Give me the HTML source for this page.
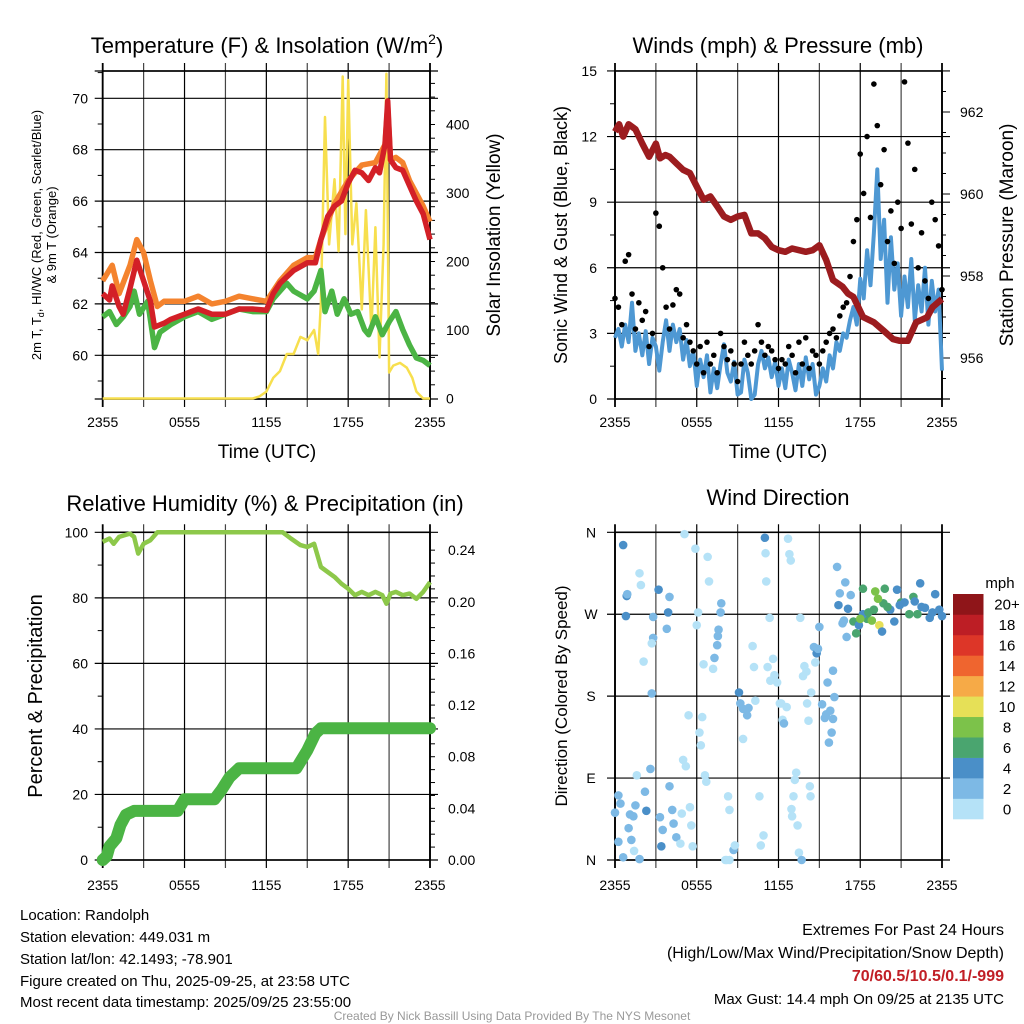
<!DOCTYPE html>
<html><head><meta charset="utf-8"><style>
html,body{margin:0;padding:0;background:#fff}
svg{display:block;font-family:"Liberation Sans",sans-serif}
</style></head><body>
<svg id="s" width="1024" height="1024" viewBox="0 0 1024 1024">
<g id="txt">
<text x="267" y="53" font-size="22" text-anchor="middle">Temperature (F) &amp; Insolation (W/m<tspan dy="-9" font-size="14">2</tspan><tspan dy="9">)</tspan></text>
<text x="778" y="53" font-size="22" text-anchor="middle">Winds (mph) &amp; Pressure (mb)</text>
<text x="265" y="511" font-size="22" text-anchor="middle">Relative Humidity (%) &amp; Precipitation (in)</text>
<text x="778" y="505" font-size="22" text-anchor="middle">Wind Direction</text>
<text x="267" y="458" font-size="19" text-anchor="middle">Time (UTC)</text>
<text x="778" y="458" font-size="19" text-anchor="middle">Time (UTC)</text>
<text transform="translate(41,235) rotate(-90)" font-size="13" text-anchor="middle">2m T, T<tspan dy="3" font-size="9">d</tspan><tspan dy="-3">, HI/WC (Red, Green, Scarlet/Blue)</tspan></text>
<text transform="translate(56,235) rotate(-90)" font-size="13" text-anchor="middle">&amp; 9m T (Orange)</text>
<text transform="translate(500,235) rotate(-90)" font-size="19" text-anchor="middle">Solar Insolation (Yellow)</text>
<text transform="translate(567,235) rotate(-90)" font-size="18" text-anchor="middle">Sonic Wind &amp; Gust (Blue, Black)</text>
<text transform="translate(1013,235) rotate(-90)" font-size="19" text-anchor="middle">Station Pressure (Maroon)</text>
<text transform="translate(42,696) rotate(-90)" font-size="20" text-anchor="middle">Percent &amp; Precipitation</text>
<text transform="translate(567,696) rotate(-90)" font-size="17" text-anchor="middle">Direction (Colored By Speed)</text>
<text x="1000" y="588" font-size="15" text-anchor="middle">mph</text>
<g font-size="15">
<text x="20" y="920">Location: Randolph</text>
<text x="20" y="942">Station elevation: 449.031 m</text>
<text x="20" y="964">Station lat/lon: 42.1493; -78.901</text>
<text x="20" y="986">Figure created on Thu, 2025-09-25, at 23:58 UTC</text>
<text x="20" y="1007">Most recent data timestamp: 2025/09/25 23:55:00</text>
</g>
<g font-size="16" text-anchor="end">
<text x="1004" y="935">Extremes For Past 24 Hours</text>
<text x="1004" y="958">(High/Low/Max Wind/Precipitation/Snow Depth)</text>
<text x="1004" y="981" fill="#c11f26" font-weight="bold">70/60.5/10.5/0.1/-999</text>
<text x="1004" y="1004" font-size="15">Max Gust: 14.4 mph On 09/25 at 2135 UTC</text>
</g>
<text x="512" y="1020" font-size="12" fill="#999" text-anchor="middle">Created By Nick Bassill Using Data Provided By The NYS Mesonet</text>
</g>
</svg>
<script>
// ---- Temperature panel data ----
const redHours=[0,0.5,0.7,1.2,1.5,2,2.5,3,3.5,3.8,4.5,5,6,7,8,9,10,11,12,12.5,13,14,15,15.6,16,16.5,17,17.5,18,18.5,19,19.5,20,20.3,20.7,20.9,21.1,21.5,22,22.5,23,23.5,24];
const redTemp=[62.4,62.15,62.7,61.9,61.6,62.6,63.7,62.9,62.1,61.1,61.25,61.4,61.6,61.8,61.6,61.6,61.8,61.8,61.75,62.4,62.8,63.3,63.6,63.6,64.5,65.4,65.8,66.0,66.7,67.2,67.1,66.8,67.3,67.1,68.2,69.9,67.6,67.3,67.2,66.6,66.0,65.5,64.5];
const orangeHours=[0,0.7,1.2,2,2.5,3,3.5,4,4.5,6,7,8,9,10,11,12,13,14,15,15.6,16,17,18,19,20,20.7,20.9,21.1,21.5,22,22.5,23,23.5,24];
const orangeTemp=[62.9,63.5,62.4,63.5,64.5,64.0,62.9,61.9,62.1,62.1,62.3,62.0,62.1,62.3,62.2,62.1,62.9,63.5,63.8,63.8,64.5,65.9,66.8,67.4,67.5,68.2,69.7,67.6,67.7,67.5,66.8,66.3,65.8,65.2];
const greenHours=[0,0.5,1,1.5,2,2.3,2.7,3.3,3.8,4.2,5,6,7,8,9,10,11,12,12.5,13,13.5,14,15,15.5,16,16.3,16.8,17.2,17.7,18.2,18.7,19.2,19.5,20,20.5,21,21.5,22,22.5,23,23.5,24];
const greenTemp=[61.5,61.7,61.2,61.5,61.9,62.5,61.6,62.1,60.3,60.9,61.2,61.5,61.7,61.4,61.6,61.8,61.7,61.7,62.2,62.5,62.8,62.5,62.2,62.5,63.3,61.7,62.5,61.6,62.2,61.6,61.7,61.0,60.8,61.5,60.8,61.3,61.7,61.0,60.4,59.9,59.8,59.6];
const solarHours=[0,11,11.5,12,12.5,13,13.5,14,14.5,15,15.5,15.8,16,16.3,16.6,17,17.3,17.6,17.8,18,18.3,18.6,19,19.3,19.7,20,20.3,20.6,20.8,21,21.3,21.8,22.3,22.7,23,23.5,24];
const solarW=[0,0,3,10,30,40,65,65,90,85,100,65,140,411,225,320,215,470,240,465,225,285,130,275,100,250,60,225,474,38,48,52,45,30,10,0,0];
const tempTicks=[60,62,64,66,68,70];
const solarTicks=[0,100,200,300,400];
const timeLabels=["2355","0555","1155","1755","2355"];
// ---- Winds panel data (15-min) ----
const windSpd=[2.8,3.2,2.4,3.4,2.6,4.4,2.2,3.0,2.0,3.1,1.6,2.8,2.4,1.3,2.6,3.6,2.2,3.4,2.6,3.2,1.8,2.7,1.5,2.2,
0.6,1.8,1.0,2.0,0.3,1.4,0.5,1.6,2.5,1.2,0.8,1.7,
0.2,0.3,1.8,1.2,0,0.2,1.6,2.2,1.4,1.9,1.0,1.7,
0.6,1.4,0.5,1.8,1.2,0.4,1.6,0.6,1.9,0.9,1.6,0.2,
0.6,1.4,0.8,2.0,1.4,2.6,2.2,3.0,2.8,3.6,4.2,3.4,
5.5,4.6,6.8,5.2,7.6,10.5,6.4,8.2,4.4,7.4,5.0,6.2,
3.8,5.6,4.2,6.4,3.6,5.2,4.0,6.0,3.4,5.4,4.0,5.0,1.3];
const gustSpd=[4.6,4.2,3.4,6.3,6.6,4.8,3.2,4.4,3.6,4.0,2.4,3.0,8.5,7.9,6.0,4.2,3.2,4.3,5.0,4.8,2.8,3.4,2.6,2.2,
1.6,2.4,1.2,2.6,1.6,2.0,1.2,3.0,2.4,1.8,2.2,1.6,
0.8,1.6,2.6,2.0,1.6,2.2,3.4,2.6,2.0,2.4,2.2,1.8,
1.4,1.8,1.6,2.4,2.0,1.2,2.6,1.6,2.8,1.4,2.2,2.0,
1.6,2.2,2.6,3.0,3.2,2.8,3.8,4.2,4.4,5.6,7.2,8.2,
11.2,9.4,12.0,8.3,14.4,12.5,9.8,11.4,7.2,8.6,6.2,9.0,
7.8,14.5,11.7,8.0,10.5,6.0,7.6,5.4,4.6,9.0,8.2,7.0,5.0];
const presHours=[0,0.3,0.6,1,1.5,2,2.5,3,3.3,3.7,4,4.5,5,5.5,6,6.5,7,7.5,8,8.5,9,9.5,10,10.5,11,11.5,12,12.5,13,14,14.5,15,15.5,16,16.7,17.1,17.5,18.2,19,19.7,20.4,20.9,21.5,22.1,22.9,23.3,24];
const presMb=[961.52,961.70,961.40,961.70,961.58,961.23,960.91,961.23,960.87,960.95,960.91,960.75,960.59,960.51,960.18,959.86,959.94,959.70,959.45,959.37,959.45,959.49,959.04,959.04,958.92,958.71,958.63,958.59,958.67,958.59,958.63,958.75,958.39,957.90,957.74,957.57,957.49,957.00,956.87,956.67,956.46,956.42,956.42,956.87,956.99,957.24,957.44];
const windTicks=[0,3,6,9,12,15];
const presTicks=[956,958,960,962];
// ---- Humidity panel data ----
const rhHours=[0,0.5,0.8,1.2,2,2.3,2.6,3,3.5,4,13.2,13.8,14.5,15,15.5,16,16.5,17,17.5,18,18.5,19,19.5,20,20.5,20.8,21.1,21.5,22,22.5,23,23.5,24];
const rhPct=[97.1,98.1,96.5,98.6,99.6,98.6,93.5,96.5,97.6,100,100,98.1,96.1,95.5,96.5,89.4,87.9,86.4,84.3,82.8,80.8,81.8,80.8,81.8,80.8,78.2,81.3,81.8,80.8,81.3,79.7,81.8,84.8];
const prHours=[0,0.3,0.5,1,1.3,1.7,2.3,5.5,6,8.2,8.7,9.3,10,14.2,15,15.6,16,24];
const prIn=[0,0.003,0.0105,0.0168,0.027,0.035,0.038,0.038,0.047,0.047,0.054,0.064,0.071,0.071,0.085,0.098,0.102,0.102];
const rhTicks=[0,20,40,60,80,100];
const prTicks=["0.00","0.04","0.08","0.12","0.16","0.20","0.24"];
// ---- Wind direction data ----
const dirHour=[0.6,0.86,0.9,0.8,0.25,0,0.4,1.1,1.35,2.3,1.5,2.2,2.6,1.6,1,1.2,0.25,0.6,1.8,1.4,1.8,1.9,2.1,2.7,2.8,2.8,3.2,3.8,3.9,4.0,2.7,3.3,3.4,3.5,4.2,4.0,4.3,4.5,4.8,4.9,5.5,5.6,5.7,5.0,5.2,5.4,5.1,5.9,6.1,6.0,6.5,6.8,6.9,6.2,6.3,6.4,6.6,6.7,7.5,7.6,7.55,7.3,7.2,7.8,7.75,8.1,8.4,8.3,8.2,8.4,8.7,8.8,9.1,9.2,9.4,9.8,9.7,10.2,10.1,10.3,9.4,10.6,10.9,10.7,11,11.05,11.1,11.2,11.4,11.6,11.35,11.7,11.9,12.1,12.3,12.4,12.2,12.6,12.7,12.8,12.9,13.3,13.2,13.1,12.95,13.0,13.4,13.5,13.7,13.6,13.9,13.8,14.05,14.1,14.2,14.3,14.35,14.4,14.7,14.6,14.8,14.9,15.0,15.2,15.4,15.5,15.8,16.0,16.1,15.9,15.7,15.6,16.0,16.3,16.5,16.4,16.9,17.1,16.8,16.7,17.0,17.3,17.7,18.2,18.5,18.2,18.6,18.85,19.1,19.4,19.7,19.8,19.3,19.6,20.2,20.5,20.7,21.0,21.25,21.6,21.9,22.4,22.5,22.75,23.1,23.3,23.5,23.8,24,17.5,17.9,18.0,19.0,20.0,20.9,22.0,22.2,23.6];
const dirDeg=[346,290,292,268,71,52,62,50,48,54,60,75,100,93,35,22,20,3,1,10,315,302,218,183,244,267,297,254,272,289,238,47,15,33,55,81,40,25,18,51,58,38,15,110,103,159,358,342,272,258,215,333,306,140,126,157,93,86,236,253,246,222,210,282,272,0,55,70,0,0,11,16,184,172,166,167,159,212,235,175,133,70,27,16,354,337,306,212,197,221,266,203,195,172,154,150,172,168,353,336,329,96,88,70,56,48,38,8,0,266,213,202,207,172,153,81,70,184,217,234,227,232,256,171,156,160,164,155,179,140,129,195,208,322,293,280,305,276,263,260,245,291,249,298,265,270,272,263,295,258,282,298,287,251,275,262,297,283,283,270,289,304,278,277,266,272,292,275,268,262,258,265,275,278,280,284,270];
const dirSpd=[4,4,3,5,3,3,3,3,3,5,3,3,3,1,3,3,3,3,3,1,1,1,1,3,3,3,4,3,4,3,1,3,4,3,3,3,3,3,1,1,1,1,1,1,1,1,1,1,1,1,1,1,1,1,1,1,1,1,3,3,3,3,1,3,3,1,1,1,1,1,3,1,4,3,3,3,3,1,1,1,1,1,1,1,4,1,1,1,1,1,1,1,1,1,1,3,1,1,1,1,1,1,1,1,1,1,1,1,3,1,1,1,1,1,1,1,1,1,1,3,4,3,3,3,3,3,3,3,3,3,3,3,3,3,3,4,3,4,3,3,3,3,7,7,7,5,7,9,9,11,7,7,9,5,5,5,5,7,5,7,7,5,5,5,5,5,5,5,4,7,5,9,7,7,5,5,7];
const cbLabels=["0","2","4","6","8","10","12","14","16","18","20+"];
const cbColors=["#b5e2f7","#7db9e5","#4a8fc8","#4aa56f","#7cc24a","#e6e057","#f6aa47","#ef652f","#dd3628","#bd1e25","#8f1519"];

const NS="http://www.w3.org/2000/svg";
const svg=document.getElementById('s');
function mk(tag,attrs,parent){const e=document.createElementNS(NS,tag);for(const k in attrs)e.setAttribute(k,attrs[k]);(parent||svg).appendChild(e);return e;}
function txt(x,y,s,size,anchor,parent){const t=mk('text',{x:x,y:y,'font-size':size,'text-anchor':anchor},parent);t.textContent=s;return t;}
function poly(hs,vs,fx,fy){return hs.map((h,i)=>fx(h).toFixed(1)+','+fy(vs[i]).toFixed(1)).join(' ');}

function frame(x0,x1,y0,y1,name){
  const g=mk('g',{stroke:'#000',fill:'none'});
  
  
  const dx=(x1-x0)/8;
  for(let i=0;i<=8;i++){const x=x0+i*dx;mk('line',{x1:x,y1:y0-8,x2:x,y2:y1+8,'stroke-width':(i==0||i==8)?1.8:1.2,stroke:(i%2)?'#444':'#000'},g);}
  return g;
}
function hgrid(g,x0,x1,ys){ys.forEach(y=>mk('line',{x1:x0-8,y1:y,x2:x1+8,y2:y,'stroke-width':1.2},g));}
function border(g,x0,x1,y0,y1){mk('rect',{x:x0,y:y0,width:x1-x0,height:y1-y0,'stroke-width':1.6},g);}

// ===== Panel 1 =====
{
const x0=102.7,x1=430,y0=71,y1=399;
const X=h=>x0+h*(x1-x0)/24, YT=t=>98.3+(70-t)*25.7, YS=w=>398.5-w*0.685;
const g=frame(x0,x1,y0,y1,'temperature');
hgrid(g,x0,x1,[...tempTicks.map(YT),y0,y1]);
for(let t=59;t<=71;t+=2){mk('line',{x1:x0-5,y1:YT(t),x2:x0,y2:YT(t),'stroke-width':1},g);}
for(let w=20;w<=460;w+=20){mk('line',{x1:x1,y1:YS(w),x2:x1+5,y2:YS(w),'stroke-width':1},g);}
border(g,x0,x1,y0,y1);
const lab=mk('g',{'font-size':14});


tempTicks.forEach(t=>txt(88,YT(t)+5,String(t),14,'end',lab));
solarTicks.forEach(w=>txt(446,YS(w)+5,String(w),14,'start',lab));
timeLabels.forEach((s,i)=>txt(X(i*6),427,s,14,'middle',lab));
const sol=mk('polyline',{points:poly(solarHours,solarW,X,YS),fill:'none',stroke:'#f7df4e',"stroke-width":2.5,'stroke-linejoin':'round'});


const gr=mk('polyline',{points:poly(greenHours,greenTemp,X,YT),fill:'none',stroke:'#4bb444',"stroke-width":5.5,'stroke-linejoin':'round'});


const or=mk('polyline',{points:poly(orangeHours,orangeTemp,X,YT),fill:'none',stroke:'#f4832e',"stroke-width":5.5,'stroke-linejoin':'round'});


const rd=mk('polyline',{points:poly(redHours,redTemp,X,YT),fill:'none',stroke:'#d32027',"stroke-width":5.5,'stroke-linejoin':'round'});


}
// ===== Panel 2 =====
{
const x0=615,x1=942,y0=71,y1=399;
const X=h=>x0+h*(x1-x0)/24, YW=m=>399-m*21.87, YP=p=>399-(p-955)*41;
const g=frame(x0,x1,y0,y1,'winds');
hgrid(g,x0,x1,[...windTicks.map(YW)]);
for(let m=1.5;m<15;m+=3){mk('line',{x1:x0-5,y1:YW(m),x2:x0,y2:YW(m),'stroke-width':1},g);}
for(let p=955.5;p<963;p+=0.5){mk('line',{x1:x1,y1:YP(p),x2:x1+(p%2==0?8:4),y2:YP(p),'stroke-width':1},g);}
border(g,x0,x1,y0,y1);
const lab=mk('g',{'font-size':14});


windTicks.forEach(m=>txt(597,YW(m)+5,String(m),14,'end',lab));
presTicks.forEach(p=>txt(960,YP(p)+5,String(p),14,'start',lab));
timeLabels.forEach((s,i)=>txt(X(i*6),427,s,14,'middle',lab));
const step=24/(windSpd.length-1);
const wl=mk('polyline',{points:windSpd.map((v,i)=>X(i*step).toFixed(1)+','+YW(v).toFixed(1)).join(' '),fill:'none',stroke:'#4e98d3','stroke-width':4,'stroke-linejoin':'round'});


const gg=mk('g',{fill:'#000'});


const gstep=24/(gustSpd.length-1);
gustSpd.forEach((v,i)=>{const c=mk('circle',{cx:X(i*gstep),cy:YW(v),r:2.8},gg);

});
const pl=mk('polyline',{points:poly(presHours,presMb,X,YP),fill:'none',stroke:'#9c1c1f','stroke-width':6.5,'stroke-linejoin':'round'});


}
// ===== Panel 3 =====
{
const x0=102.7,x1=430,y0=532.3,y1=860;
const X=h=>x0+h*(x1-x0)/24, YR=r=>860-r*3.277, YPr=v=>860-v*1291;
const g=frame(x0,x1,y0,y1,'humidity');
hgrid(g,x0,x1,rhTicks.map(YR));
for(let r=10;r<100;r+=20){mk('line',{x1:x0-5,y1:YR(r),x2:x0,y2:YR(r),'stroke-width':1},g);}
for(let v=0.01;v<0.25;v+=0.01){mk('line',{x1:x1,y1:YPr(v),x2:x1+5,y2:YPr(v),'stroke-width':1},g);}
border(g,x0,x1,y0,y1);
const lab=mk('g',{'font-size':14});


rhTicks.forEach(r=>txt(88,YR(r)+5,String(r),14,'end',lab));
prTicks.forEach(v=>txt(448,YPr(parseFloat(v))+5,v,14,'start',lab));
timeLabels.forEach((s,i)=>txt(X(i*6),890,s,14,'middle',lab));
const pr=mk('polyline',{points:poly(prHours,prIn,X,YPr),fill:'none',stroke:'#4bb444','stroke-width':12,'stroke-linejoin':'round','stroke-linecap':'round'});


const rh=mk('polyline',{points:poly(rhHours,rhPct,X,YR),fill:'none',stroke:'#8dc84a','stroke-width':4.5,'stroke-linejoin':'round'});


}
// ===== Panel 4 =====
{
const x0=615,x1=942,y0=532.3,y1=860;
const X=h=>x0+h*(x1-x0)/24, YD=d=>860-d*(y1-y0)/360;
const g=frame(x0,x1,y0,y1,'wind-direction');
hgrid(g,x0,x1,[0,90,180,270,360].map(YD));
border(g,x0,x1,y0,y1);
const lab=mk('g',{'font-size':14});


["N","E","S","W","N"].forEach((s,i)=>txt(591,YD(i*90)+5,s,14,'middle',lab));
timeLabels.forEach((s,i)=>txt(X(i*6),890,s,14,'middle',lab));
const col=s=>cbColors[Math.min(10,Math.floor(s/2))];
const pg=mk('g',{});


const n=Math.min(dirHour.length,dirDeg.length,dirSpd.length);
for(let i=0;i<n;i++){const c=mk('circle',{cx:X(dirHour[i]),cy:YD(dirDeg[i]),r:4.3,fill:col(dirSpd[i])},pg);

}
const cb=mk('g',{});


const bh=(819-594)/11;
cbColors.forEach((c,i)=>{mk('rect',{x:953,y:819-(i+1)*bh,width:30.5,height:bh+0.3,fill:c},cb);
txt(1007,819-(i+0.5)*bh+5.5,cbLabels[i],15,'middle',cb);});
}
</script>
</body></html>
